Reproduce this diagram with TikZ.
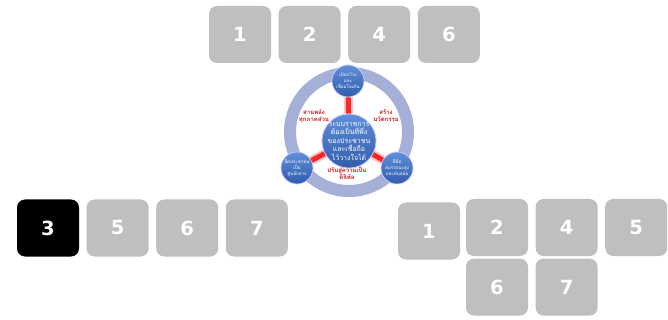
\documentclass[tikz,border=0pt]{standalone}
\usepackage{xcolor}
\usepackage{fontspec}
\setmainfont{DejaVu Sans}
\newfontfamily\thaifont[Script=Thai]{Loma}
\usepackage{tikz}
\usetikzlibrary{calc}
\usetikzlibrary{positioning}

\definecolor{boxgray}{RGB}{191,191,191}
\definecolor{ringblue}{RGB}{164,176,216}
\definecolor{linkred}{RGB}{250,40,40}
\definecolor{txtred}{RGB}{215,20,20}

\begin{document}
\begin{tikzpicture}[x=1pt,y=-1pt,semithick]
	\tikzstyle{num}=[rectangle, rounded corners=8pt, fill=boxgray, text=white, minimum width=62pt, minimum height=57pt, inner sep=0pt, font=\bfseries\fontsize{19.5}{19.5}\selectfont]
	\tikzstyle{ball}=[circle, inner sep=0pt, top color={rgb,255:red,96;green,143;blue,218}, bottom color={rgb,255:red,48;green,92;blue,172}, draw=white!80!blue, line width=0.7pt]
	\tikzstyle{wtxt}=[text=white, align=center, inner sep=0pt]
	\tikzstyle{rtxt}=[text=txtred, align=center, inner sep=0pt, font=\thaifont\bfseries\fontsize{6}{7}\selectfont]
	\tikzstyle{glow}=[linkred!45, line width=9pt, opacity=.6]
	\tikzstyle{link}=[linkred, line width=5pt]

	\path[fill=white] (0,0) rectangle (668,320);

	% top row
	\node[num]                (t1) at (240,34.5) {1};
	\node[num, right=7pt of t1] (t2) {2};
	\node[num, right=7pt of t2] (t4) {4};
	\node[num, right=7pt of t4] (t6) {6};

	% left row
	\node[num, fill=black]    (l3) at (48,228) {3};
	\node[num, right=7pt of l3] (l5) {5};
	\node[num, right=7pt of l5] (l6) {6};
	\node[num, right=7pt of l6] (l7) {7};

	% right group
	\node[num]                (r1) at (429,231) {1};
	\node[num]                (r2) at (497,227.5) {2};
	\node[num, right=7pt of r2] (r4) {4};
	\node[num, right=7pt of r4] (r5) {5};
	\node[num, below=2pt of r2] (r6) {6};
	\node[num, below=2pt of r4] (r7) {7};

	% ring with the hub and three balls
	\draw[ringblue, line width=12pt] (349,132) circle[radius=59];

	\node[ball, minimum size=54pt] (hub) at (349,141) {};
	\node[ball, minimum size=32pt] (top) at (348,81) {};
	\node[ball, minimum size=32pt] (lft) at (297,168) {};
	\node[ball, minimum size=32pt] (rgt) at (397,168) {};

	\foreach \b in {top,lft,rgt}{
		\draw[glow] (hub) -- (\b);
		\draw[link] (hub) -- (\b);
	}
	\node[ball, minimum size=54pt] (hubB) at (hub) {};

	\node[wtxt, font=\thaifont\fontsize{7}{8.5}\selectfont] (hubT) at (hub) {ระบบราชการ\\ต้องเป็นที่พึ่ง\\ของประชาชน\\และเชื่อถือ\\ไว้วางใจได้};
	\node[wtxt, font=\thaifont\fontsize{4.5}{6}\selectfont] (topT) at (top) {เปิดกว้าง\\และ\\เชื่อมโยงกัน};
	\node[wtxt, font=\thaifont\fontsize{4.5}{6}\selectfont] (lftT) at (lft) {ยึดประชาชน\\เป็น\\ศูนย์กลาง};
	\node[wtxt, font=\thaifont\fontsize{4.5}{6}\selectfont] (rgtT) at (rgt) {มีขีด\\สมรรถนะสูง\\และทันสมัย};

	\node[rtxt] (sA) at (314,116) {สานพลัง\\ทุกภาคส่วน};
	\node[rtxt] (sB) at (386,116) {สร้าง\\นวัตกรรม};
	\node[rtxt] (sC) at (347,173.5) {ปรับสู่ความเป็น\\ดิจิทัล};
\end{tikzpicture}
\end{document}
